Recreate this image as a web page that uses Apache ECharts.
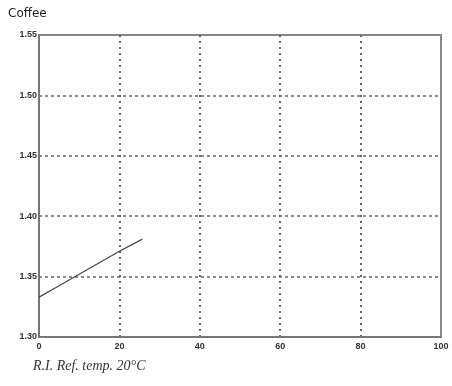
<!DOCTYPE html>
<html>
<head>
<meta charset="utf-8">
<script src="https://cdn.jsdelivr.net/npm/echarts@6/dist/echarts.min.js"></script>
<style>
  html, body { margin: 0; padding: 0; background: #fff; }
  #chart { width: 452px; height: 386px; }
</style>
</head>
<body>
<div id="chart"></div>
<script>
// concentration (x) vs refractive index (y)
var conc = [0, 5, 9, 15, 20, 25.7];
var refIndex = [1.333, 1.3425, 1.350, 1.3615, 1.371, 1.381];
var xTicks = [0, 20, 40, 60, 80, 100];
var yTicks = ["1.30", "1.35", "1.40", "1.45", "1.50", "1.55"];

var chart = echarts.init(document.getElementById("chart"));
var axisLabelStyle = {
  fontFamily: "Liberation Sans",
  fontSize: 9,
  fontWeight: "bold",
  color: "#333",
};
var option = {
  animation: false,
  title: {
    text: "Coffee",
    left: 3,
    top: 3,
    textStyle: { fontFamily: "DejaVu Sans", fontSize: 12, fontWeight: "normal", color: "#222" },
  },
  graphic: [
    {
      type: "text",
      left: 33,
      top: 359,
      style: {
        text: "R.I. Ref. temp. 20°C",
        font: "italic 14px 'Liberation Serif'",
        fill: "#333",
      },
    },
  ],
  grid: {
    left: 39,
    right: 11,
    top: 35,
    bottom: 49,
    show: true,
    borderColor: "#888",
    borderWidth: 2,
  },
  xAxis: {
    type: "value",
    min: xTicks[0],
    max: xTicks[xTicks.length - 1],
    interval: 20,
    axisLine: { lineStyle: { color: "#777", width: 2 } },
    axisTick: { show: false },
    axisLabel: Object.assign({ margin: 5 }, axisLabelStyle),
    splitLine: {
      showMinLine: false,
      showMaxLine: false,
      lineStyle: { type: [2, 4], color: "#666", width: 2 },
    },
  },
  yAxis: {
    type: "value",
    min: 1.3,
    max: 1.55,
    interval: 0.05,
    axisLine: { show: true, lineStyle: { color: "#777", width: 2 } },
    axisTick: { show: false },
    axisLabel: Object.assign({
      margin: 2,
      formatter: function (v) {
        var i = Math.round((v - 1.3) / 0.05);
        return yTicks[i];
      },
    }, axisLabelStyle),
    splitLine: {
      showMinLine: false,
      showMaxLine: false,
      lineStyle: { type: [3, 3], color: "#666", width: 1.5 },
    },
  },
  series: [
    {
      type: "line",
      data: conc.map(function (c, i) { return [c, refIndex[i]]; }),
      showSymbol: false,
      lineStyle: { color: "#444", width: 1.2 },
    },
  ],
};
chart.setOption(option);
</script>
</body>
</html>
